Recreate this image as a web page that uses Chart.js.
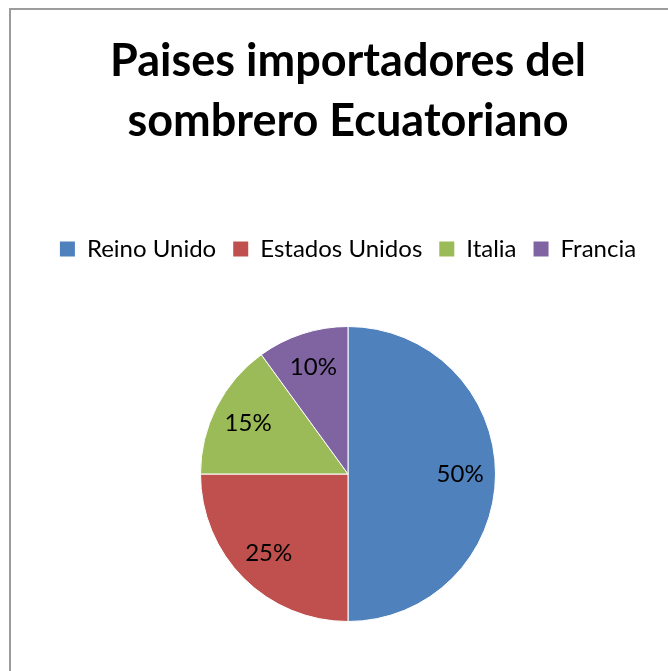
<!DOCTYPE html>
<html>
<head>
<meta charset="utf-8">
<script src="https://cdn.jsdelivr.net/npm/chart.js@4"></script>
<style>
  html, body { margin: 0; padding: 0; background: #fff; overflow: hidden; }
  #frame {
    position: absolute; left: 9px; top: 8px; width: 700px; height: 700px;
    border-left: 2px solid #9c9c9c; border-top: 2px solid #9c9c9c;
  }
  #chart { position: absolute; left: 0; top: 0; }
</style>
</head>
<body>
<div id="frame"><canvas id="chart" width="674" height="661"></canvas></div>
<script>
// Paises importadores del sombrero ecuatoriano (%)
const countries = ['Reino Unido', 'Estados Unidos', 'Italia', 'Francia'];
const shares = [50, 25, 15, 10];
const sliceColors = ['#4F81BD', '#C0504D', '#9BBB59', '#8064A2'];
const titleLines = ['Paises importadores del', 'sombrero Ecuatoriano'];

// push the pie down a bit below the legend
const legendGap = {
  id: 'legendGap',
  beforeInit(chart) {
    const fit = chart.legend.fit;
    chart.legend.fit = function () {
      fit.bind(chart.legend)();
      this.height += 55;
    };
  }
};

// percent labels inside the slices
const sliceLabels = {
  id: 'sliceLabels',
  afterDatasetsDraw(chart) {
    const ctx = chart.ctx;
    const meta = chart.getDatasetMeta(0);
    ctx.save();
    ctx.font = '24px Lato';
    ctx.fillStyle = '#000';
    ctx.textAlign = 'center';
    ctx.textBaseline = 'middle';
    meta.data.forEach((arc, i) => {
      const p = arc.getProps(['x', 'y', 'startAngle', 'endAngle', 'outerRadius'], true);
      const mid = (p.startAngle + p.endAngle) / 2;
      const r = p.outerRadius * 0.76;
      ctx.fillText(shares[i] + '%', p.x + Math.cos(mid) * r, p.y + Math.sin(mid) * r);
    });
    ctx.restore();
  }
};

const ctx = document.getElementById('chart').getContext('2d');
new Chart(ctx, {
  type: 'pie',
  data: {
    labels: countries,
    datasets: [{
      data: shares,
      backgroundColor: sliceColors,
      borderColor: '#fff',
      borderWidth: 1,
      hoverOffset: 0
    }]
  },
  options: {
    responsive: false,
    animation: false,
    events: [],
    layout: { padding: { top: 0, left: 0, right: 0, bottom: 49 } },
    plugins: {
      title: {
        display: true,
        text: titleLines,
        color: '#000',
        font: { family: 'Lato', size: 45, weight: 'bold', lineHeight: 60 / 45 },
        padding: { top: 21, bottom: 69 }
      },
      legend: {
        position: 'top',
        labels: {
          color: '#000',
          font: { family: 'Lato', size: 24 },
          boxWidth: 15,
          boxHeight: 15,
          padding: 17,
          generateLabels(chart) {
            const items = Chart.overrides.pie.plugins.legend.labels.generateLabels(chart);
            items.forEach(it => { it.lineWidth = 0; });
            return items;
          }
        }
      },
      tooltip: { enabled: false }
    }
  },
  plugins: [legendGap, sliceLabels]
});
</script>
</body>
</html>
